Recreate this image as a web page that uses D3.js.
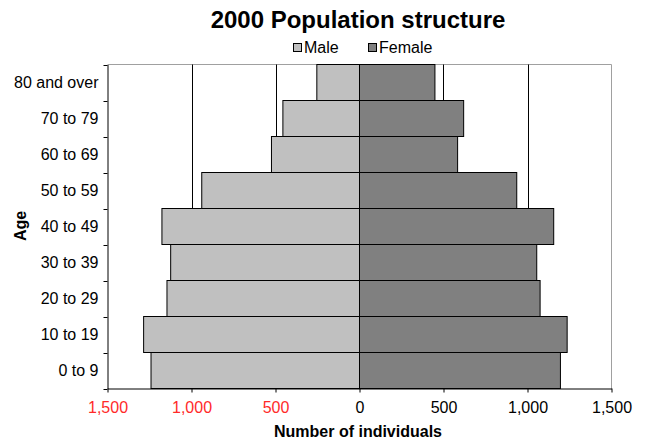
<!DOCTYPE html>
<html><head><meta charset="utf-8">
<script src="https://cdn.jsdelivr.net/npm/d3@7"></script>
<style>body{margin:0;background:#fff}svg{display:block}text{font-family:"Liberation Sans",Arial,sans-serif}</style>
</head><body>
<script>
const ages = ["0 to 9","10 to 19","20 to 29","30 to 39","40 to 49","50 to 59","60 to 69","70 to 79","80 and over"];
const male = [1241,1285,1146,1124,1176,939,524,456,254];
const female = [1196,1236,1075,1055,1156,936,584,620,449];
const xTicks = [-1500,-1000,-500,0,500,1000,1500];
const gridTicks = [-1000,-500,500,1000];
const legendItems = ["Male","Female"];

const W=645,H=440;
const svg=d3.select("body").append("svg").attr("width",W).attr("height",H);
const L=107.5,R=611.5,T=64.5,B=388.5;
const x=d3.scaleLinear().domain([-1500,1500]).range([L,R]);
const y=d3.scaleBand().domain(ages.slice().reverse()).range([T,B]).padding(0);

// plot border (gray top/right)
svg.append("path").attr("d",`M${L},${T}H${R}V${B}`).attr("fill","none").attr("stroke","#a0a0a0").attr("stroke-width",1);

// gridlines
svg.append("g").selectAll("line").data(gridTicks).join("line")
  .attr("x1",d=>Math.round(x(d))+0.5).attr("x2",d=>Math.round(x(d))+0.5)
  .attr("y1",T).attr("y2",B).attr("stroke","#000").attr("stroke-width",1);

const data=ages.map((a,i)=>({age:a,m:male[i],f:female[i]}));
const g=svg.append("g");
g.selectAll("rect.m").data(data).join("rect").attr("class","m")
  .attr("x",d=>x(-d.m)).attr("width",d=>x(0)-x(-d.m))
  .attr("y",d=>y(d.age)).attr("height",y.bandwidth())
  .attr("fill","#c0c0c0").attr("stroke","#000").attr("stroke-width",1);
g.selectAll("rect.f").data(data).join("rect").attr("class","f")
  .attr("x",x(0)).attr("width",d=>x(d.f)-x(0))
  .attr("y",d=>y(d.age)).attr("height",y.bandwidth())
  .attr("fill","#808080").attr("stroke","#000").attr("stroke-width",1);

// axes
const fmt=d3.format(",");
const xa=svg.append("g").attr("transform",`translate(0,${B})`)
  .call(d3.axisBottom(x).tickValues(xTicks).tickSize(4).tickSizeOuter(0).tickPadding(9).tickFormat(d=>fmt(Math.abs(d))));
xa.select(".domain").attr("stroke","#000");
xa.selectAll("text").attr("font-size",16).attr("font-family","Liberation Sans, Arial, sans-serif")
  .attr("fill",d=>d<0?"#ff2a2a":"#000");

const ya=svg.append("g").attr("transform",`translate(${L},0)`)
  .call(d3.axisLeft(y).tickSize(0).tickSizeOuter(0).tickPadding(9));
ya.select(".domain").attr("stroke","#000");
ya.selectAll("text").attr("font-size",16).attr("font-family","Liberation Sans, Arial, sans-serif").attr("fill","#000");
// ticks at band boundaries
const bounds=ages.map(a=>y(a)).concat([B]);
svg.append("g").selectAll("line").data(bounds).join("line")
  .attr("x1",L-4).attr("x2",L).attr("y1",d=>Math.round(d)+0.5).attr("y2",d=>Math.round(d)+0.5)
  .attr("stroke","#000");

// title
svg.append("text").attr("x",358).attr("y",28).attr("text-anchor","middle")
  .attr("font-size",24).attr("font-weight","bold").text("2000 Population structure");
// legend
const legColors=["#c0c0c0","#808080"], legX=[293,368];
const lg=svg.append("g").selectAll("g").data(legendItems).join("g");
lg.append("rect").attr("x",(d,i)=>legX[i]+0.5).attr("y",43.5).attr("width",8).attr("height",8)
  .attr("fill",(d,i)=>legColors[i]).attr("stroke","#000");
lg.append("text").attr("x",(d,i)=>legX[i]+11).attr("y",52.5).attr("font-size",16).text(d=>d);

// axis titles
svg.append("text").attr("x",358).attr("y",437).attr("text-anchor","middle")
  .attr("font-size",16).attr("font-weight","bold").text("Number of individuals");
svg.append("text").attr("transform",`translate(26,226) rotate(-90)`).attr("text-anchor","middle")
  .attr("font-size",16).attr("font-weight","bold").text("Age");
</script>
</body></html>
